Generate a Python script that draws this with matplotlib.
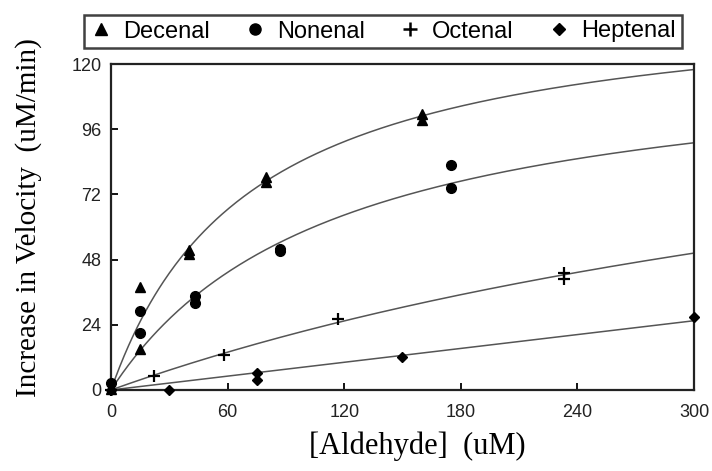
import numpy as np
import matplotlib
matplotlib.use("Agg")
import matplotlib.pyplot as plt
from matplotlib.lines import Line2D

# Data
dec_x = [0, 15, 15, 40, 40, 80, 80, 160, 160]
dec_y = [0.5, 38, 15, 51.5, 50, 78.5, 76.5, 101.5, 99.5]

non_x = [0, 15, 15, 43, 43, 87, 87, 175, 175]
non_y = [2.7, 29, 21, 34.5, 32, 52, 51, 83, 74.5]

oct_x = [0, 22, 58, 117, 233, 233]
oct_y = [0, 5, 13, 26, 43, 41]

hep_x = [0, 30, 75, 75, 150, 300]
hep_y = [0, 0, 6.3, 3.7, 12, 26.7]

# Fitted curve parameters (Michaelis-Menten Vmax, Km)
dec_fit = (146.3, 72.0)
non_fit = (125.6, 114.0)
oct_fit = (146.0, 569.0)
hep_slope = 0.085

labels = ["Decenal", "Nonenal", "Octenal", "Heptenal"]
xticks = [0, 60, 120, 180, 240, 300]
yticks = [0, 24, 48, 72, 96, 120]

fig = plt.figure(figsize=(7.12, 4.71), dpi=100)
ax = fig.add_axes([0.1559, 0.172, 0.8188, 0.692])

xs = np.linspace(0, 300, 400)
curve_kw = dict(color="#555555", lw=1.1, zorder=1)
for vmax, km in (dec_fit, non_fit, oct_fit):
    ax.plot(xs, vmax * xs / (km + xs), **curve_kw)
ax.plot(xs, hep_slope * xs, **curve_kw)

ax.plot(dec_x, dec_y, ls="none", marker="^", ms=7, color="black", clip_on=False, zorder=3)
ax.plot(non_x, non_y, ls="none", marker="o", ms=7, color="black", clip_on=False, zorder=3)
ax.plot(oct_x, oct_y, ls="none", marker="+", ms=9, mew=1.6, color="black", clip_on=False, zorder=3)
ax.plot(hep_x, hep_y, ls="none", marker="D", ms=5.5, color="black", clip_on=False, zorder=3)

ax.set_xlim(0, 300)
ax.set_ylim(0, 120)
ax.set_xticks(xticks)
ax.set_yticks(yticks)
ax.tick_params(direction="in", length=5, width=1.3, labelsize=13, pad=7)
ax.tick_params(axis="x", pad=10)
for lab in ax.get_xticklabels() + ax.get_yticklabels():
    lab.set_family("Liberation Sans")
    lab.set_color("#222222")
for sp in ax.spines.values():
    sp.set_linewidth(1.6)
    sp.set_color("#222222")

fig.text(417 / 712, 1 - 446 / 471, "[Aldehyde]  (uM)", family="Liberation Serif",
         fontsize=22, ha="center", va="center")
fig.text(29 / 712, 1 - 218 / 471, "Increase in Velocity  (uM/min)", family="Liberation Serif",
         fontsize=21, rotation=90, ha="center", va="center")

handles = [
    Line2D([], [], ls="none", marker="^", ms=8, color="black"),
    Line2D([], [], ls="none", marker="o", ms=8, color="black"),
    Line2D([], [], ls="none", marker="+", ms=10, mew=1.8, color="black"),
    Line2D([], [], ls="none", marker="D", ms=6.5, color="black"),
]
leg = fig.legend(handles, labels, loc="center", bbox_to_anchor=(383 / 712, 1 - 31.5 / 471), ncol=4,
                 frameon=True, fancybox=False, edgecolor="#111111", handlelength=0.9,
                 handletextpad=0.5, columnspacing=1.45, borderpad=0.25,
                 prop={"family": "Liberation Sans", "size": 17})
leg.get_frame().set_linewidth(1.8)

fig.savefig("out.png", dpi=100)
